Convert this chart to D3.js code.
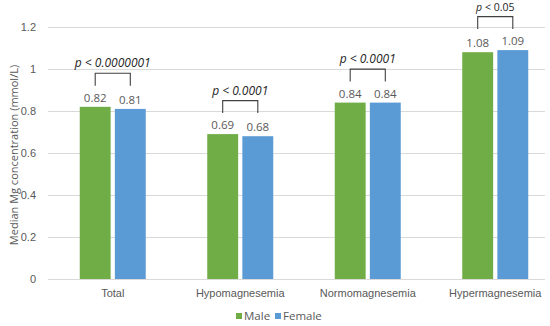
<!DOCTYPE html>
<html lang="en">
<head>
    <meta charset="utf-8">
    <title>Median Mg concentration</title>
    <style>
        body {
            margin: 0;
            background: #fff;
        }
        svg {
            font-family: "Open Sans", sans-serif;
        }
        .tick text {
            fill: #595959;
            font-size: 11px;
        }
    </style>
</head>
<body>
<svg id="chart" width="550" height="326"></svg>
<script src="https://cdnjs.cloudflare.com/ajax/libs/d3/7.8.5/d3.min.js"></script>
<script>
    const categories = ["Total", "Hypomagnesemia", "Normomagnesemia", "Hypermagnesemia"];
    const series = ["Male", "Female"];
    const male = [0.82, 0.69, 0.84, 1.08];
    const female = [0.81, 0.68, 0.84, 1.09];
    const pLabels = ["p < 0.0000001", "p < 0.0001", "p < 0.0001", "p < 0.05"];
    const yTicks = [0, 0.2, 0.4, 0.6, 0.8, 1, 1.2];
    const colors = ["#70ad47", "#5b9bd5"];

    const plotLeft = 48, plotRight = 545, plotTop = 27, plotBottom = 279;

    const svg = d3.select("#chart");

    const x = d3.scaleBand()
        .domain(categories)
        .range([49, 559]);
    const xSub = d3.scaleBand()
        .domain(series)
        .range([0, 66])
        .paddingInner(0.12);
    const y = d3.scaleLinear()
        .domain([0, 1.2])
        .range([plotBottom, plotTop]);

    // gridlines + y labels
    const yAxis = svg.append("g")
        .attr("transform", "translate(" + plotLeft + ",0)")
        .call(d3.axisLeft(y).tickValues(yTicks).tickSize(0).tickPadding(12)
            .tickFormat(d3.format("")));
    yAxis.select(".domain").remove();
    yAxis.selectAll(".tick line")
        .attr("x2", plotRight - plotLeft)
        .attr("stroke", "#d9d9d9");

    svg.append("text")
        .attr("transform", "translate(13," + ((plotTop + plotBottom) / 2 + 2) + ") rotate(-90)")
        .attr("text-anchor", "middle")
        .attr("dominant-baseline", "central")
        .style("font-size", "11px")
        .style("fill", "#595959")
        .text("Median Mg concentration (mmol/L)");

    // x labels
    const xAxis = svg.append("g")
        .attr("transform", "translate(0," + plotBottom + ")")
        .call(d3.axisBottom(x).tickSize(0).tickPadding(10));
    xAxis.select(".domain").remove();

    const rows = categories.map(function(c, i) {
        return {cat: c, vals: [male[i], female[i]], p: pLabels[i]};
    });

    const group = svg.selectAll(".group")
        .data(rows)
        .enter().append("g")
        .attr("class", "group")
        .attr("transform", function(d) {
            return "translate(" + (x(d.cat) + x.bandwidth() / 2 - 33) + ",0)";
        });

    group.selectAll("rect")
        .data(function(d) { return d.vals; })
        .enter().append("rect")
        .attr("x", function(d, i) { return xSub(series[i]); })
        .attr("y", function(d) { return y(d); })
        .attr("width", xSub.bandwidth())
        .attr("height", function(d) { return plotBottom - y(d); })
        .style("fill", function(d, i) { return colors[i]; });

    group.selectAll(".val")
        .data(function(d) { return d.vals; })
        .enter().append("text")
        .attr("class", "val")
        .attr("x", function(d, i) { return xSub(series[i]) + xSub.bandwidth() / 2; })
        .attr("y", function(d) { return y(d) - 5; })
        .attr("text-anchor", "middle")
        .style("font-size", "11.5px")
        .style("fill", "#595959")
        .text(function(d) { return d3.format(".2f")(d); });

    // significance brackets
    group.each(function(d, i) {
        const g = d3.select(this);
        const base = y(d3.max(d.vals)) - 21;
        const topY = base - 12.5;
        const x1 = xSub("Male") + xSub.bandwidth() / 2;
        const x2 = xSub("Female") + xSub.bandwidth() / 2;
        g.append("path")
            .attr("d", "M" + x1 + "," + base + "V" + topY + "H" + x2 + "V" + base)
            .attr("fill", "none")
            .attr("stroke", "#404040")
            .attr("stroke-width", 1.1);
        const small = i === 3;
        const t = g.append("text")
            .attr("x", (x1 + x2) / 2)
            .attr("y", topY - 6)
            .attr("text-anchor", "middle")
            .style("font-size", small ? "10.5px" : "12px")
            .style("font-weight", "500")
            .style("fill", "#1f1f1f");
        if (small) {
            t.append("tspan").style("font-style", "italic").text("p");
            t.append("tspan").text(d.p.slice(1));
        } else {
            t.style("font-style", "italic").text(d.p);
        }
    });

    // legend
    const legend = svg.append("g").attr("transform", "translate(236,316)");
    const li = legend.selectAll("g")
        .data(series)
        .enter().append("g")
        .attr("transform", function(d, i) { return "translate(" + (i * 39) + ",0)"; });
    li.append("rect")
        .attr("x", 0).attr("y", -3)
        .attr("width", 6).attr("height", 6)
        .style("fill", function(d, i) { return colors[i]; });
    li.append("text")
        .attr("x", 8)
        .attr("dy", "0.35em")
        .style("font-size", "11.5px")
        .style("fill", "#595959")
        .text(function(d) { return d; });
</script>
</body>
</html>
